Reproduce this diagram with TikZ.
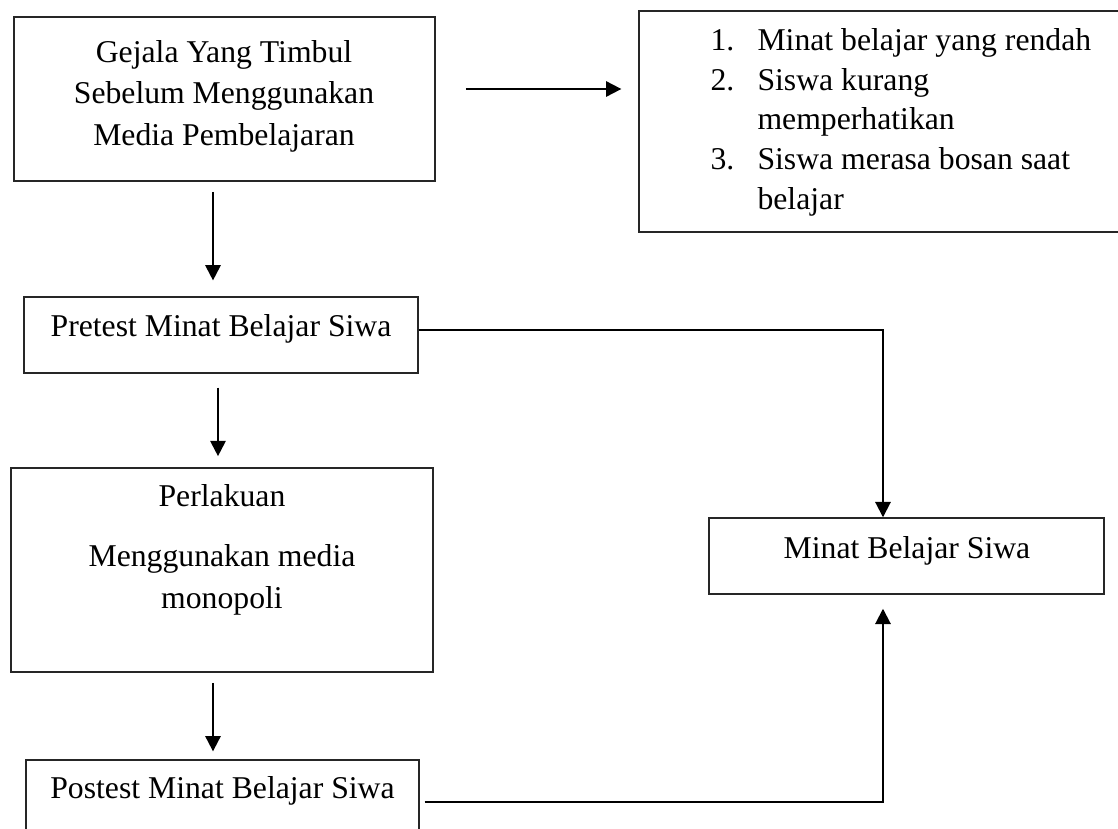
\documentclass[tikz,border=0pt]{standalone}
\usepackage{fontspec}
\setmainfont{Liberation Serif}
\usetikzlibrary{arrows.meta,calc}
\begin{document}
\begin{tikzpicture}[x=0.3785pt,y=-0.3785pt,
  box/.style={draw=black!85,line width=0.55pt,inner sep=0pt},
  txt/.style={inner sep=0pt,align=center,font=\fontsize{12}{15.6}\selectfont},
  arr/.style={draw=black,line width=0.75pt,-{Triangle[width=5.8pt,length=5.8pt]}}]
\useasboundingbox[fill=white] (0,0) rectangle (1118,829);
% boxes
\node[box,minimum width=421*0.3785pt,minimum height=164*0.3785pt] (g) at (224.5,99) {};
\node[box,minimum width=501*0.3785pt,minimum height=221*0.3785pt] (lst) at (889.5,121.5) {};
\node[box,minimum width=394*0.3785pt,minimum height=76*0.3785pt] (pre) at (221,335) {};
\node[box,minimum width=422*0.3785pt,minimum height=204*0.3785pt] (per) at (222,570) {};
\node[box,minimum width=393*0.3785pt,minimum height=76*0.3785pt] (post) at (222.5,798) {};
\node[box,minimum width=395*0.3785pt,minimum height=76*0.3785pt] (mi) at (906.5,556) {};
% texts (base anchor = baseline of the last line)
\node[txt,anchor=base] (gt) at (224,145) {Gejala Yang Timbul\\Sebelum Menggunakan\\Media Pembelajaran};
\node[txt,anchor=base west,align=left,font=\fontsize{12}{15}\selectfont] (lt) at (710,209)
  {\makebox[17.8pt][l]{1.}Minat belajar yang rendah\\
   \makebox[17.8pt][l]{2.}Siswa kurang\\
   \hspace*{17.8pt}memperhatikan\\
   \makebox[17.8pt][l]{3.}Siswa merasa bosan saat\\
   \hspace*{17.8pt}belajar};
\node[txt,anchor=base] (pret) at (221,336) {Pretest Minat Belajar Siwa};
\node[txt,anchor=base] (pert) at (222,608) {Perlakuan\\[7.2pt]Menggunakan media\\monopoli};
\node[txt,anchor=base] (postt) at (222.5,798) {Postest Minat Belajar Siwa};
\node[txt,anchor=base] (mit) at (907,558) {Minat Belajar Siwa};
% connector anchors
\coordinate (a1) at ($(g.south)+(-11.5,0)$);
\coordinate (a2) at ($(pre.south)+(-3,0)$);
\coordinate (a3) at ($(per.south)+(-9,0)$);
\coordinate (a4) at ($(g.east)+(0,-10)$);
\coordinate (p5) at ($(pre.east)+(0,-5)$);
\coordinate (t5) at ($(mi.north)+(-23.5,0)$);
\coordinate (p6) at ($(post.east)+(5,4)$);
\coordinate (t6) at ($(mi.south)+(-23.5,14)$);
% connectors
\draw[arr,shorten <=3.8pt,shorten >=6pt] (a1) -- (a1 |- pre.north);
\draw[arr,shorten <=5.3pt,shorten >=4.2pt] (a2) -- (a2 |- per.north);
\draw[arr,shorten <=3.8pt,shorten >=3pt] (a3) -- (a3 |- post.north);
\draw[arr,shorten <=11.4pt,shorten >=6.4pt] (a4) -- (a4 -| lst.west);
\draw[arr] (p5) -| (t5);
\draw[arr] (p6) -| (t6);
\end{tikzpicture}
\end{document}
